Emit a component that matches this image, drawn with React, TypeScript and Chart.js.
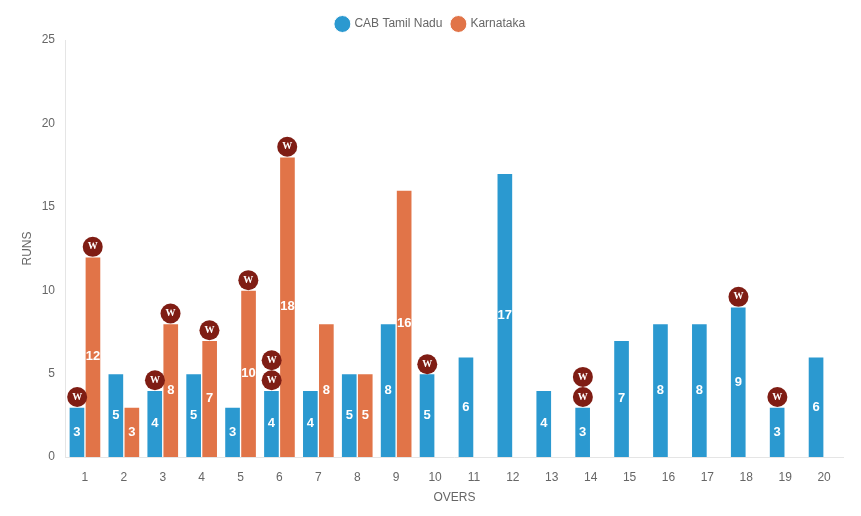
import React, { useEffect, useRef } from "react";
import { Chart, registerables } from "chart.js";

Chart.register(...registerables);

const overs = ["1","2","3","4","5","6","7","8","9","10","11","12","13","14","15","16","17","18","19","20"];
const tamilNaduRuns = [3,5,4,5,3,4,4,5,8,5,6,17,4,3,7,8,8,9,3,6];
const karnatakaRuns: (number | null)[] = [12,3,8,7,10,18,8,5,16,null,null,null,null,null,null,null,null,null,null,null];
const tamilNaduWickets = [
  { x: 0.8, y: 3.6 }, { x: 2.8, y: 4.6 }, { x: 5.8, y: 4.6 }, { x: 5.8, y: 5.8 },
  { x: 9.8, y: 5.56 }, { x: 13.8, y: 3.6 }, { x: 13.8, y: 4.8 }, { x: 17.8, y: 9.6 }, { x: 18.8, y: 3.6 },
];
const karnatakaWickets = [
  { x: 1.2, y: 12.6 }, { x: 3.2, y: 8.6 }, { x: 4.2, y: 7.6 }, { x: 5.2, y: 10.6 }, { x: 6.2, y: 18.6 },
];

const labelPlugin = {
  id: "labels",
  afterDatasetsDraw(chart: any) {
    const ctx = chart.ctx;
    ctx.save();
    ctx.textAlign = "center";
    ctx.textBaseline = "middle";
    chart.data.datasets.forEach((ds: any, i: number) => {
      const meta = chart.getDatasetMeta(i);
      meta.data.forEach((el: any, j: number) => {
        if (ds.type === "scatter") {
          ctx.fillStyle = "#ffffff";
          ctx.font = "bold 10px 'Liberation Serif'";
          ctx.fillText("W", el.x, el.y);
        } else if (ds.data[j] != null) {
          ctx.fillStyle = "#ffffff";
          ctx.font = "bold 13px 'Liberation Sans'";
          ctx.fillText(String(ds.data[j]), el.x, (el.y + el.base) / 2);
        }
      });
    });
    ctx.restore();
  },
};

export default function App() {
  const ref = useRef<HTMLCanvasElement>(null);
  useEffect(() => {
    const chart = new Chart(ref.current!, {
      type: "bar",
      data: {
        labels: overs,
        datasets: [
          { type: "scatter", label: "W1", data: tamilNaduWickets, xAxisID: "xw", backgroundColor: "#7f1d14", pointRadius: 10, pointBorderWidth: 0 } as any,
          { type: "scatter", label: "W2", data: karnatakaWickets, xAxisID: "xw", backgroundColor: "#7f1d14", pointRadius: 10, pointBorderWidth: 0 } as any,
          { label: "CAB Tamil Nadu", data: tamilNaduRuns, backgroundColor: "#2b99d0", borderColor: "#ffffff", borderWidth: 1, barThickness: 16 },
          { label: "Karnataka", data: karnatakaRuns, backgroundColor: "#e17448", borderColor: "#ffffff", borderWidth: 1, barThickness: 16 },
        ],
      },
      options: {
        responsive: false,
        animation: false,
        layout: { padding: { left: 18, right: 17.5, top: 8, bottom: 10 } },
        plugins: {
          tooltip: { enabled: false },
          legend: {
            position: "top",
            labels: {
              usePointStyle: true,
              color: "#666666",
              font: { size: 12, family: "'Liberation Sans'" },
              filter: (item: any) => item.text !== "W1" && item.text !== "W2",
            },
          },
        },
        scales: {
          x: {
            grid: { display: false, drawTicks: false },
            border: { color: "#e5e5e5" },
            ticks: { color: "#666666", font: { size: 12, family: "'Liberation Sans'" }, padding: 13 },
            title: { display: true, text: "OVERS", color: "#666666", font: { size: 12, family: "'Liberation Sans'" }, padding: { top: 0, bottom: 0.8 } },
            afterFit: (s: any) => { s.height = 49; },
          },
          xw: { type: "linear", display: false, min: 0.5, max: 20.5, offset: false },
          y: {
            min: 0,
            max: 25,
            grid: { display: false, drawTicks: false },
            border: { color: "#e5e5e5" },
            ticks: { stepSize: 5, color: "#666666", font: { size: 12, family: "'Liberation Sans'" }, padding: 10.5 },
            title: { display: true, text: "RUNS", color: "#666666", font: { size: 12, family: "'Liberation Sans'" }, padding: { top: 2, bottom: 0 } },
            afterFit: (s: any) => { s.width = 47.5; },
          },
        },
      } as any,
      plugins: [labelPlugin],
    });
    return () => chart.destroy();
  }, []);
  return (
    <div style={{ position: "fixed", left: 0, top: 0, width: 861, height: 516 }}>
      <canvas ref={ref} width={861} height={516} style={{ display: "block" }} />
    </div>
  );
}
